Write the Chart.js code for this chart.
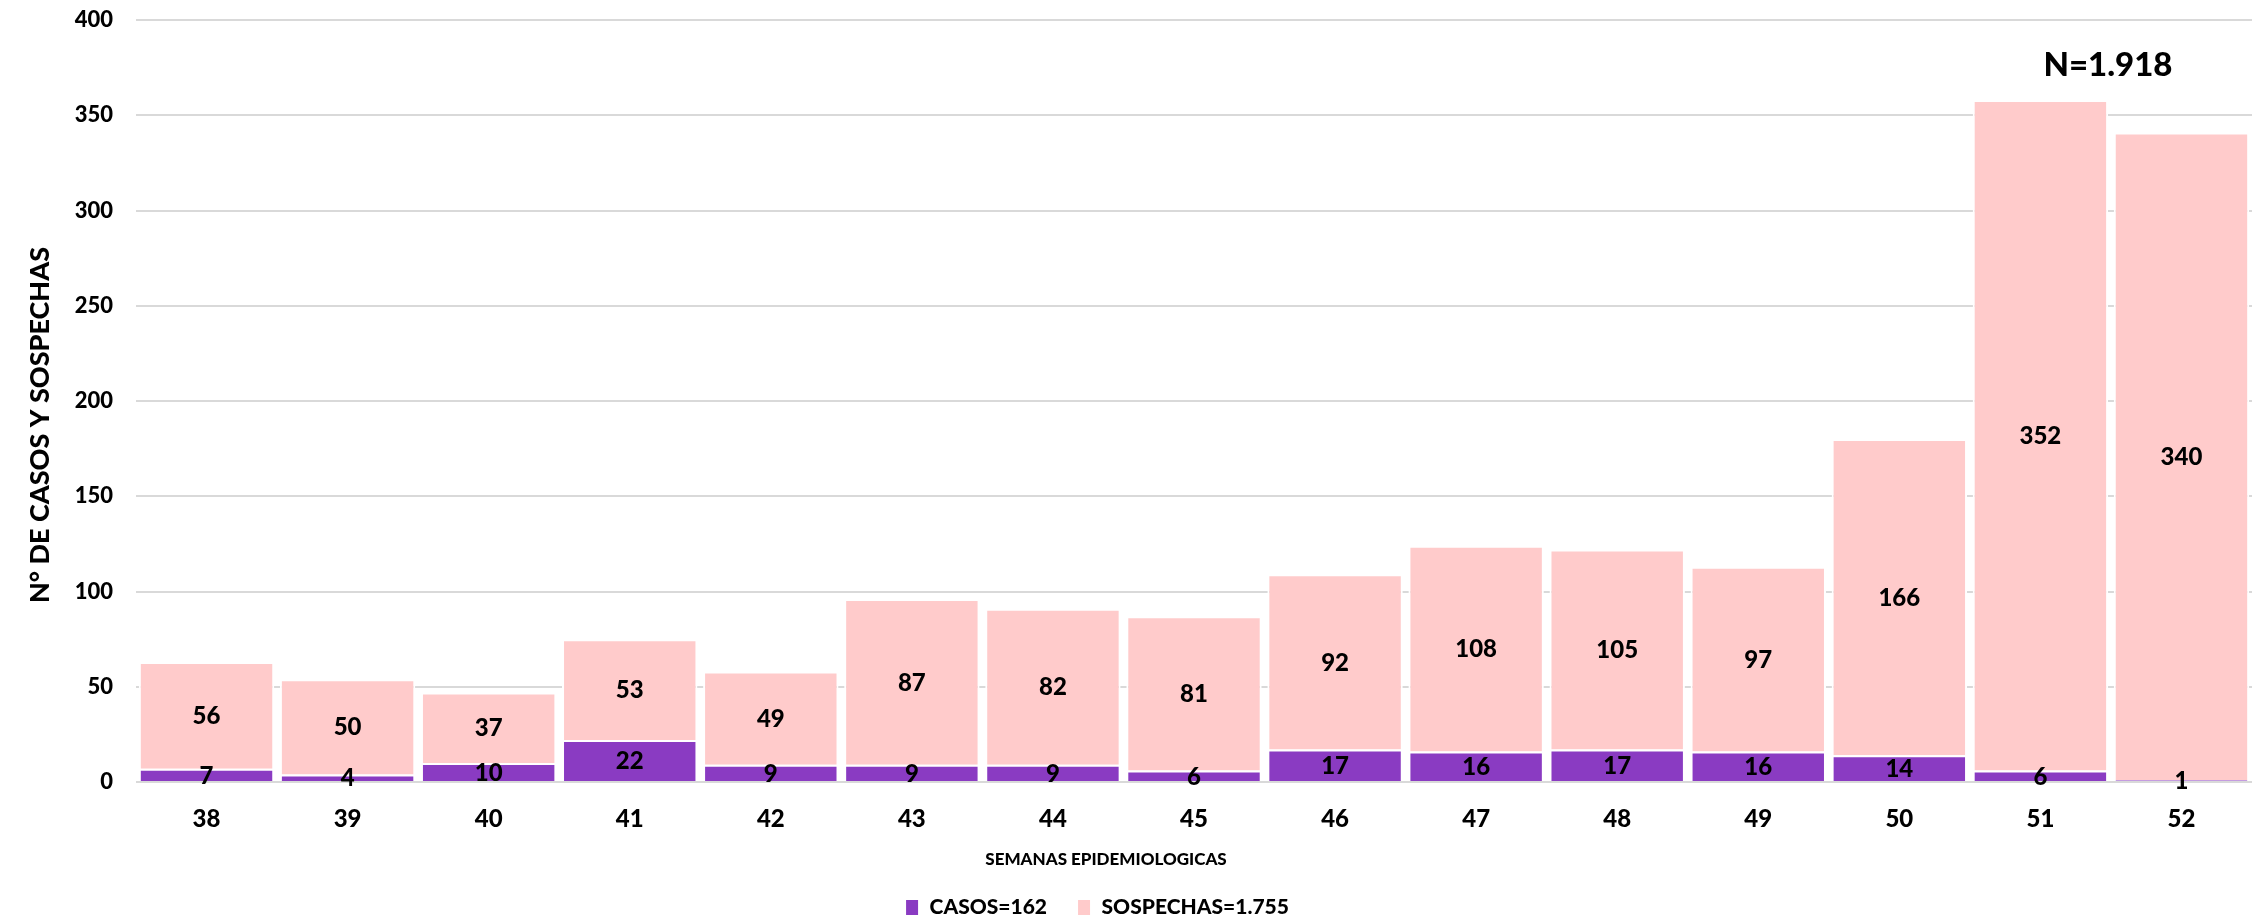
<!DOCTYPE html>
<html>
<head>
<meta charset="utf-8">
<script src="https://cdn.jsdelivr.net/npm/chart.js@4"></script>
<style>
  html, body { margin: 0; padding: 0; background: #fff; }
  #wrap { width: 2257px; height: 921px; }
</style>
</head>
<body>
<div id="wrap"><canvas id="chart" width="2257" height="921"></canvas></div>
<script>
// weeks and counts
const WEEKS = ['38', '39', '40', '41', '42', '43', '44', '45', '46', '47', '48', '49', '50', '51', '52'];
const CASOS = [7, 4, 10, 22, 9, 9, 9, 6, 17, 16, 17, 16, 14, 6, 1];
const SOSPECHAS = [56, 50, 37, 53, 49, 87, 82, 81, 92, 108, 105, 97, 166, 352, 340];
const Y_TICKS = [0, 50, 100, 150, 200, 250, 300, 350, 400];

const FONT = 'Lato, Calibri, Carlito, sans-serif';
const WEIGHT = '900';
const PURPLE = '#8a3bc2';
const PINK = '#ffcbcb';

// value labels centred in each bar segment
const segmentLabels = {
  id: 'segmentLabels',
  afterDatasetsDraw(chart) {
    const ctx = chart.ctx;
    ctx.save();
    ctx.font = `${WEIGHT} 24px ${FONT}`;
    ctx.fillStyle = '#000';
    ctx.textAlign = 'center';
    ctx.textBaseline = 'middle';
    chart.data.datasets.forEach((ds, i) => {
      chart.getDatasetMeta(i).data.forEach((bar, j) => {
        ctx.fillText(String(ds.data[j]), bar.x, (bar.y + bar.base) / 2 + 1);
      });
    });
    ctx.restore();
  },
};

// axis titles and the total note
const extraText = {
  id: 'extraText',
  afterDraw(chart) {
    const { ctx, scales: { x, y } } = chart;
    ctx.save();
    ctx.fillStyle = '#000';
    ctx.textAlign = 'center';
    ctx.textBaseline = 'middle';

    ctx.font = `${WEIGHT} 17px ${FONT}`;
    ctx.fillText('SEMANAS EPIDEMIOLOGICAS', 1106, 860);

    ctx.font = `${WEIGHT} 33px ${FONT}`;
    const nx = (x.getPixelForValue(13) + x.getPixelForValue(14)) / 2;
    ctx.fillText('N=1.918', nx - 3, y.getPixelForValue(376));

    ctx.translate(40, 425);
    ctx.rotate(-Math.PI / 2);
    ctx.font = `${WEIGHT} 27px ${FONT}`;
    ctx.fillText('N° DE CASOS Y SOSPECHAS', 0, 0);
    ctx.restore();
  },
};

// move the legend a little to the left, as in the picture
const legendShift = {
  id: 'legendShift',
  afterLayout(chart) {
    chart.legend.left -= 29;
    chart.legend.right -= 29;
  },
};

new Chart(document.getElementById('chart'), {
  type: 'bar',
  data: {
    labels: WEEKS,
    datasets: [
      {
        label: 'CASOS=162',
        data: CASOS,
        backgroundColor: PURPLE,
        borderColor: '#fff',
        borderWidth: 2,
      },
      {
        label: 'SOSPECHAS=1.755',
        data: SOSPECHAS,
        backgroundColor: PINK,
        borderColor: '#fff',
        borderWidth: 2,
      },
    ],
  },
  options: {
    responsive: false,
    animation: false,
    layout: { padding: { top: 20, right: 5, bottom: 0, left: 0 } },
    datasets: {
      bar: { categoryPercentage: 1, barPercentage: 0.96 },
    },
    scales: {
      x: {
        stacked: true,
        grid: { display: false, drawTicks: false },
        border: { display: false },
        ticks: {
          color: '#000',
          padding: 23,
          font: { family: FONT, size: 24, weight: WEIGHT },
        },
        afterFit: (scale) => { scale.height = 85; },
      },
      y: {
        stacked: true,
        min: 0,
        max: 400,
        grid: { color: '#d9d9d9', lineWidth: 2, drawTicks: false },
        border: { display: false },
        afterBuildTicks: (scale) => { scale.ticks = Y_TICKS.map((v) => ({ value: v })); },
        ticks: {
          color: '#000',
          padding: 23,
          font: { family: FONT, size: 22, weight: WEIGHT },
        },
        afterFit: (scale) => {
          scale.width = 136;
          // tick padding would otherwise push the plot top down
          scale.paddingTop = 0;
          scale.paddingBottom = 0;
        },
      },
    },
    plugins: {
      legend: {
        position: 'bottom',
        maxHeight: 54,
        labels: {
          color: '#000',
          boxWidth: 14,
          boxHeight: 17,
          padding: 30,
          font: { family: FONT, size: 21, weight: WEIGHT },
        },
      },
      tooltip: { enabled: false },
    },
  },
  plugins: [segmentLabels, extraText, legendShift],
});
</script>
</body>
</html>
